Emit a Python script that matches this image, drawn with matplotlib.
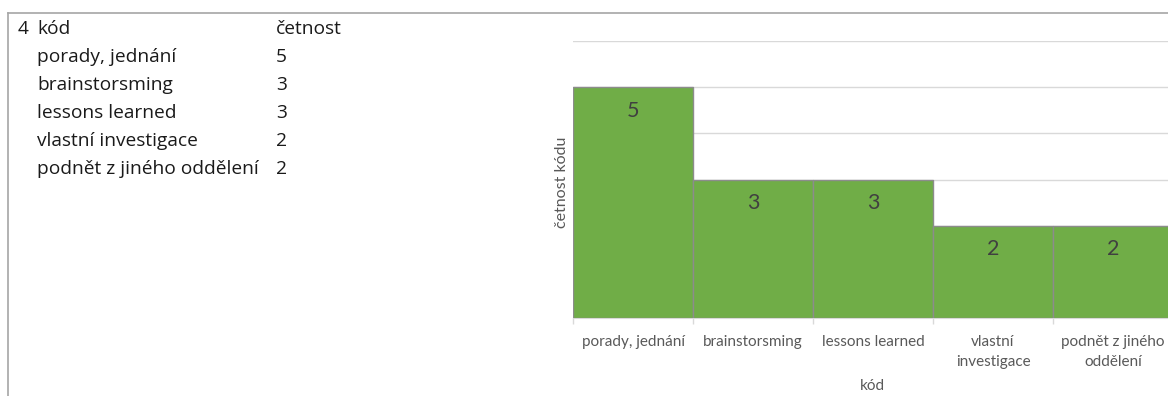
import matplotlib
matplotlib.use("Agg")
import matplotlib.pyplot as plt
from matplotlib.lines import Line2D

# data
kody = ["porady, jednání", "brainstorsming", "lessons learned",
        "vlastní investigace", "podnět z jiného oddělení"]
cetnost = [5, 3, 3, 2, 2]
tick_labels = ["porady, jednání", "brainstorsming", "lessons learned",
               "vlastní\ninvestigace", "podnět z jiného\noddělení"]
y_max = 6

W, H = 1168, 396
fig = plt.figure(figsize=(W / 100, H / 100), dpi=100)
plt.rcParams["font.family"] = ["Lato", "DejaVu Sans"]


def fx(px):
    return px / W


def fy(py):
    return 1 - py / H


# sheet frame
fig.add_artist(Line2D([fx(8), 1.0], [fy(13), fy(13)], color="#a6a6a6", lw=1.2,
                      transform=fig.transFigure))
fig.add_artist(Line2D([fx(8), fx(8)], [fy(13), 0.0], color="#a6a6a6", lw=1.2,
                      transform=fig.transFigure))

# table of codes
tab_font = dict(family=["Open Sans", "DejaVu Sans"], fontsize=13.8, color="#1a1a1a",
                va="center", ha="left")
row_y = 29
step = 28
fig.text(fx(18), fy(row_y), "4", **tab_font)
fig.text(fx(37), fy(row_y), "kód", **tab_font)
fig.text(fx(276), fy(row_y), "četnost", **tab_font)
for i, (k, c) in enumerate(zip(kody, cetnost)):
    y = row_y + step * (i + 1)
    fig.text(fx(37), fy(y), k, **tab_font)
    fig.text(fx(276), fy(y), str(c), **tab_font)

# chart
left, right, top, base = 573, 1173, 41, 318
ax = fig.add_axes([fx(left), fy(base), (right - left) / W, (base - top) / H])
x = list(range(len(cetnost)))
bars = ax.bar(x, cetnost, width=1.0, color="#70ad47", edgecolor="#8c8c8c",
              linewidth=1.0, zorder=3)
ax.set_xlim(-0.5, len(cetnost) - 0.5)
ax.set_ylim(0, y_max)
ax.set_yticks(range(1, y_max + 1))
ax.yaxis.grid(True, color="#d9d9d9", lw=1.0, zorder=0)
ax.tick_params(axis="y", left=False, labelleft=False)
for s in ["left", "right", "top"]:
    ax.spines[s].set_visible(False)
ax.spines["bottom"].set_color("#d9d9d9")
ax.spines["bottom"].set_zorder(1)

ax.set_xticks(x)
ax.set_xticklabels(tick_labels, fontsize=11, color="#595959", linespacing=1.6)
ax.tick_params(axis="x", which="major", length=0, pad=12)
ax.set_xticks([i - 0.5 for i in range(len(cetnost) + 1)], minor=True)
ax.tick_params(axis="x", which="minor", length=4, color="#d9d9d9", width=1)

for xi, v in zip(x, cetnost):
    ax.annotate(str(v), (xi, v), xytext=(0, -17), textcoords="offset points",
                ha="center", va="center", fontsize=15.5, color="#404040", zorder=4)

fig.text(fx(872), fy(386), "kód", ha="center", va="center", fontsize=11,
         color="#595959")
fig.text(fx(562), fy(182), "četnost kódu", ha="center", va="center",
         rotation=90, fontsize=11.5, color="#595959")

fig.savefig("out.png", dpi=100)
